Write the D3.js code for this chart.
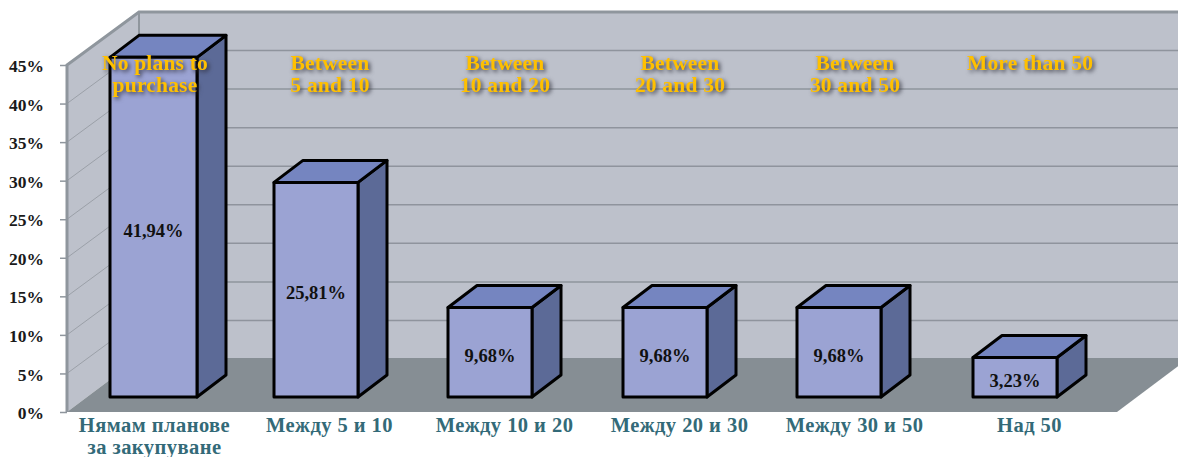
<!DOCTYPE html>
<html>
<head>
<meta charset="utf-8">
<script src="https://cdn.jsdelivr.net/npm/d3@7"></script>
<style>
  html, body { margin: 0; padding: 0; background: #fff; }
  svg { display: block; }
  text { font-family: "Liberation Serif", serif; font-weight: bold; }
  .tick text { font-size: 17.5px; }
  .category { font-size: 20.5px; fill: #336a78; letter-spacing: 0.45px; }
  .english { font-size: 21.5px; fill: #ffc000; letter-spacing: 0.2px; filter: drop-shadow(2px 2px 2px rgba(40, 40, 50, 0.85)); }
  .value { font-size: 18.5px; fill: #111; }
</style>
</head>
<body>
<script>
const categories = [
  ['Нямам планове', 'за закупуване'],
  ['Между 5 и 10'],
  ['Между 10 и 20'],
  ['Между 20 и 30'],
  ['Между 30 и 50'],
  ['Над 50']
];
const englishLabels = [
  ['No plans to', 'purchase'],
  ['Between', '5 and 10'],
  ['Between', '10 and 20'],
  ['Between', '20 and 30'],
  ['Between', '30 and 50'],
  ['More than 50']
];
const values = [41.94, 25.81, 9.68, 9.68, 9.68, 3.23];
const axisTicks = [0, 5, 10, 15, 20, 25, 30, 35, 40, 45];

const width = 1178;
const height = 457;
const wallDepth = { x: 72, y: -53 };
const barDepth = { x: 29, y: -22 };
const barBase = 397;
const floorBack = 358;

const svg = d3.select('body')
  .append('svg')
  .attr('width', width)
  .attr('height', height);

const indexes = categories.map((d, i) => i);

// axis scale on the front plane, labels sit in equal bands
const yScale = d3.scaleLinear().domain([0, 45]).range([412, 65]);
const xBand = d3.scaleBand().domain(indexes).range([67, 1117]);

// bars stand further back on the floor, so they get their own scales
const barY = d3.scaleLinear().domain([0, 45]).range([382.6, 33.6]);
const barX = d3.scaleOrdinal().domain(indexes).range([110, 274, 448, 623, 797, 973]);
const barW = d3.scaleOrdinal().domain(indexes).range([87, 84, 84, 84, 84, 84]);

const x0 = xBand.range()[0];
const x1 = xBand.range()[1];
const y0 = yScale(0);
const yTop = yScale(45);
const pts = a => a.map(p => p.join(',')).join(' ');

// back wall
svg.append('polygon')
  .attr('points', pts([
    [x0 + wallDepth.x, yTop + wallDepth.y],
    [x1 + wallDepth.x, yTop + wallDepth.y],
    [x1 + wallDepth.x, floorBack],
    [x0 + wallDepth.x, floorBack]
  ]))
  .attr('fill', '#bdc1cb');

// side wall
svg.append('polygon')
  .attr('points', pts([
    [x0, yTop],
    [x0 + wallDepth.x, yTop + wallDepth.y],
    [x0 + wallDepth.x, floorBack],
    [x0, y0]
  ]))
  .attr('fill', '#bdc1cb');

// floor
svg.append('polygon')
  .attr('points', pts([
    [x0, y0],
    [x0 + wallDepth.x, floorBack],
    [x1 + wallDepth.x, floorBack],
    [x1, y0]
  ]))
  .attr('fill', '#868e94');

// grid lines on both walls
const gridTicks = axisTicks.filter(d => d > 0 && d < 45);
svg.append('g')
  .selectAll('line')
  .data(gridTicks)
  .enter()
  .append('line')
  .attr('x1', x0 + wallDepth.x)
  .attr('x2', width)
  .attr('y1', d => yScale(d) + wallDepth.y)
  .attr('y2', d => yScale(d) + wallDepth.y)
  .attr('stroke', '#8f949d')
  .attr('stroke-width', 1.5);

svg.append('g')
  .selectAll('line')
  .data(gridTicks)
  .enter()
  .append('line')
  .attr('x1', x0)
  .attr('x2', x0 + wallDepth.x)
  .attr('y1', d => yScale(d))
  .attr('y2', d => yScale(d) + wallDepth.y)
  .attr('stroke', '#9ba0a8')
  .attr('stroke-width', 1);

// wall edges
svg.append('polyline')
  .attr('points', pts([
    [x0, y0],
    [x0, yTop],
    [x0 + wallDepth.x, yTop + wallDepth.y],
    [width, yTop + wallDepth.y]
  ]))
  .attr('fill', 'none')
  .attr('stroke', '#8f969d')
  .attr('stroke-width', 3);

svg.append('line')
  .attr('x1', x0 + wallDepth.x)
  .attr('x2', x0 + wallDepth.x)
  .attr('y1', yTop + wallDepth.y)
  .attr('y2', floorBack)
  .attr('stroke', '#8f969d')
  .attr('stroke-width', 2);

// y axis
const yAxis = d3.axisLeft(yScale)
  .tickValues(axisTicks)
  .tickFormat(d => `${d}%`)
  .tickSize(7)
  .tickPadding(16);

const axisGroup = svg.append('g')
  .attr('transform', `translate(${x0}, 1)`)
  .call(yAxis);
axisGroup.select('.domain').remove();
axisGroup.selectAll('.tick line')
  .attr('stroke', '#8f969d')
  .attr('stroke-width', 1.5)
  .attr('transform', 'translate(0, -1)');
axisGroup.selectAll('.tick text').attr('fill', '#1a1a1a');

// bars: side, top, then front
const bars = svg.selectAll('.bar')
  .data(values)
  .enter()
  .append('g')
  .attr('class', 'bar')
  .attr('stroke', '#000')
  .attr('stroke-width', 3)
  .attr('stroke-linejoin', 'round');

bars.append('polygon')
  .attr('fill', '#5c6a97')
  .attr('points', (d, i) => {
    const right = barX(i) + barW(i);
    return pts([
      [right, barY(d)],
      [right + barDepth.x, barY(d) + barDepth.y],
      [right + barDepth.x, barBase + barDepth.y],
      [right, barBase]
    ]);
  });

bars.append('polygon')
  .attr('fill', '#7585c0')
  .attr('points', (d, i) => {
    const left = barX(i);
    const right = left + barW(i);
    return pts([
      [left, barY(d)],
      [left + barDepth.x, barY(d) + barDepth.y],
      [right + barDepth.x, barY(d) + barDepth.y],
      [right, barY(d)]
    ]);
  });

bars.append('rect')
  .attr('fill', '#9ba3d3')
  .attr('x', (d, i) => barX(i))
  .attr('y', d => barY(d))
  .attr('width', (d, i) => barW(i))
  .attr('height', d => barBase - barY(d));

// value labels in the middle of each front face
svg.selectAll('.value')
  .data(values)
  .enter()
  .append('text')
  .attr('class', 'value')
  .attr('text-anchor', 'middle')
  .attr('x', (d, i) => barX(i) + barW(i) / 2)
  .attr('y', d => (barY(d) + barBase) / 2 + 9.5)
  .text(d => `${d.toFixed(2).replace('.', ',')}%`);

// category names under the floor
svg.selectAll('.category')
  .data(categories)
  .enter()
  .append('text')
  .attr('class', 'category')
  .attr('text-anchor', 'middle')
  .attr('y', 432)
  .selectAll('tspan')
  .data((d, i) => d.map(line => ({ line, i })))
  .enter()
  .append('tspan')
  .attr('x', d => xBand(d.i) + xBand.bandwidth() / 2)
  .attr('dy', (d, j) => (j ? 22 : 0))
  .text(d => d.line);

// English captions across the top
svg.selectAll('.english')
  .data(englishLabels)
  .enter()
  .append('text')
  .attr('class', 'english')
  .attr('text-anchor', 'middle')
  .attr('y', 70)
  .selectAll('tspan')
  .data((d, i) => d.map(line => ({ line, i })))
  .enter()
  .append('tspan')
  .attr('x', d => xBand(d.i) + xBand.bandwidth() / 2 + 0.5)
  .attr('dy', (d, j) => (j ? 21.5 : 0))
  .text(d => d.line);
</script>
</body>
</html>
